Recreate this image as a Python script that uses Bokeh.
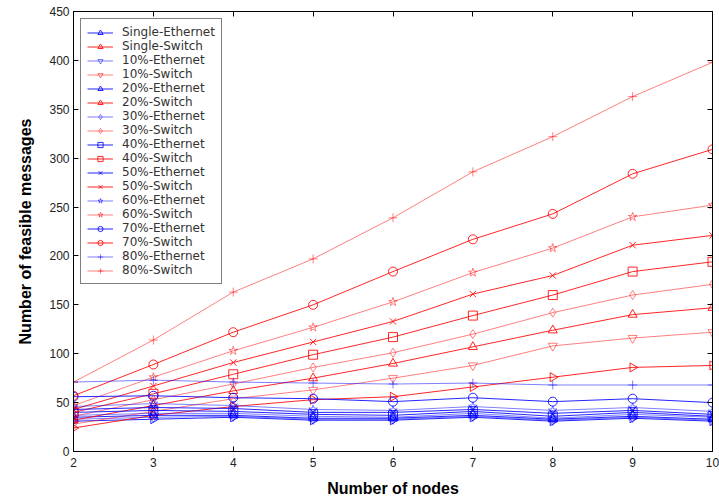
import numpy as np
from bokeh.plotting import figure
from bokeh.models import Range1d, FixedTicker, LinearAxis, Legend, CustomLabelingPolicy
from bokeh.embed import file_html
from bokeh.resources import INLINE

nodes = [2, 3, 4, 5, 6, 7, 8, 9, 10]

single_eth = [31, 33, 35, 32, 32, 35, 31, 34, 31]
single_sw = [24, 37, 46, 53, 56, 66, 76, 86, 88]
eth10 = [33, 35, 36, 33, 33, 36, 32, 35, 32]
sw10 = [28, 41, 54, 63, 75, 88, 108, 116, 122]
eth20 = [35, 37, 37, 34, 34, 37, 33, 36, 33]
sw20 = [32, 47, 62, 75, 90, 107, 124, 140, 147]
eth30 = [37, 39, 39, 36, 35, 39, 34, 38, 35]
sw30 = [36, 53, 69, 86, 101, 120, 142, 160, 171]
eth40 = [40, 42, 41, 38, 37, 41, 36, 40, 36]
sw40 = [40, 59, 79, 99, 117, 139, 160, 184, 194]
eth50 = [43, 45, 44, 40, 40, 43, 39, 42, 38]
sw50 = [43, 67, 91, 112, 133, 161, 180, 211, 221]
eth60 = [46, 49, 47, 43, 42, 46, 42, 45, 41]
sw60 = [47, 76, 103, 127, 153, 183, 208, 240, 252]
eth70 = [56, 57, 55, 54, 51, 55, 51, 54, 50]
sw70 = [57, 89, 122, 150, 184, 217, 243, 284, 309]
eth80 = [71, 73, 71, 70, 69, 70, 68, 68, 68]
sw80 = [71, 114, 163, 197, 239, 286, 322, 363, 398]

labels = ["Single-Ethernet", "Single-Switch", "10%-Ethernet", "10%-Switch",
          "20%-Ethernet", "20%-Switch", "30%-Ethernet", "30%-Switch",
          "40%-Ethernet", "40%-Switch", "50%-Ethernet", "50%-Switch",
          "60%-Ethernet", "60%-Switch", "70%-Ethernet", "70%-Switch",
          "80%-Ethernet", "80%-Switch"]
series = [single_eth, single_sw, eth10, sw10, eth20, sw20, eth30, sw30,
          eth40, sw40, eth50, sw50, eth60, sw60, eth70, sw70, eth80, sw80]
markers = ["triangle", "inverted_triangle", "triangle", "diamond", "square",
           "x", "star", "circle", "cross"]
angles = [-np.pi / 2, 0, 0, 0, 0, 0, 0, 0, 0]
strong = [True, False, True, False, True, True, False, True, False]

p = figure(frame_width=639, frame_height=440, output_backend="svg",
           toolbar_location=None,
           x_range=Range1d(2, 10), y_range=Range1d(0, 450),
           min_border_left=73, min_border_top=4, min_border_right=6,
           min_border_bottom=40)
p.background_fill_color = "white"
p.outline_line_color = "black"
p.outline_line_width = 1
p.xgrid.visible = False
p.ygrid.visible = False

items = []
for i, (lab, ys) in enumerate(zip(labels, series)):
    k = i // 2
    col = "#0000ff" if i % 2 == 0 else "#ff0000"
    a = 0.85 if strong[k] else 0.5
    l = p.line(nodes, ys, line_color=col, line_width=1, line_alpha=a)
    s = p.scatter(nodes, ys, marker=markers[k], angle=angles[k], size=9,
                  line_color=col, line_alpha=a, fill_color=None, line_width=1)
    items.append((lab, [l, s]))

legend = Legend(items=items, location="top_left")
legend.margin = 7
legend.padding = 6
legend.spacing = 0
legend.label_height = 13
legend.glyph_height = 13
legend.glyph_width = 26
legend.label_standoff = 9
legend.label_text_font = "DejaVu Sans"
legend.label_text_font_size = "12px"
legend.label_text_color = "#333333"
legend.border_line_color = "black"
legend.border_line_width = 1
legend.background_fill_alpha = 1
p.add_layout(legend, "center")

xt = FixedTicker(ticks=nodes)
yt = FixedTicker(ticks=list(range(0, 451, 50)))
for ax in (p.xaxis[0], p.yaxis[0]):
    ax.major_tick_in = 5
    ax.major_tick_out = 0
    ax.minor_tick_line_color = None
    ax.axis_line_color = "black"
    ax.major_label_text_font = "Liberation Sans"
    ax.major_label_text_font_size = "12px"
    ax.major_label_text_color = "#222222"
    ax.axis_label_text_font = "Liberation Sans"
    ax.axis_label_text_font_size = "16px"
    ax.axis_label_text_font_style = "bold"
    ax.axis_label_text_color = "#000000"
p.xaxis[0].ticker = xt
p.yaxis[0].ticker = yt
p.xaxis[0].axis_label = "Number of nodes"
p.yaxis[0].axis_label = "Number of feasible messages"
p.xaxis[0].major_label_standoff = 6
p.yaxis[0].major_label_standoff = 4
p.xaxis[0].axis_label_standoff = 10
p.yaxis[0].axis_label_standoff = 12

no_labels = CustomLabelingPolicy(code="return new Set()")
for loc, tk in (("right", yt), ("above", xt)):
    ax = LinearAxis(ticker=tk, major_label_policy=no_labels)
    ax.major_tick_in = 5
    ax.major_tick_out = 0
    ax.minor_tick_line_color = None
    ax.axis_line_color = "black"
    ax.major_label_standoff = 0
    p.add_layout(ax, loc)

open("out.html", "w").write(file_html(p, INLINE))
